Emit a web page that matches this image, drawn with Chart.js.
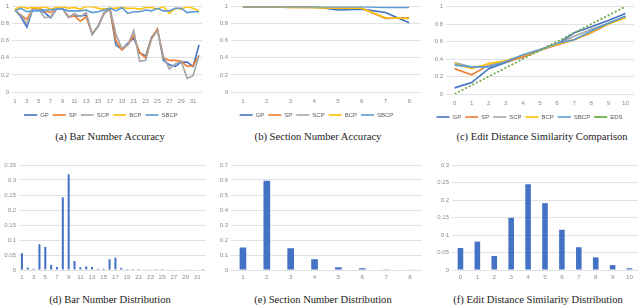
<!DOCTYPE html>
<html>
<head>
<meta charset="utf-8">
<script src="https://cdn.jsdelivr.net/npm/chart.js@4"></script>
<style>
body{margin:0;background:#fff;width:640px;height:307px;position:relative;overflow:hidden}
canvas{position:absolute}
.cap{position:absolute;font-family:"Liberation Serif","Times New Roman",serif;font-size:10.6px;color:#222;white-space:nowrap;transform:translateX(-50%)}
</style>
</head>
<body>
<canvas id="cA" width="212" height="128" style="left:0;top:0"></canvas>
<canvas id="cB" width="212" height="128" style="left:212px;top:0"></canvas>
<canvas id="cC" width="215" height="130" style="left:425px;top:0"></canvas>
<canvas id="cD" width="212" height="134" style="left:0;top:150px"></canvas>
<canvas id="cE" width="213" height="134" style="left:212px;top:150px"></canvas>
<canvas id="cF" width="215" height="134" style="left:425px;top:150px"></canvas>
<div class="cap" style="left:110px;top:131px">(a) Bar Number Accuracy</div>
<div class="cap" style="left:318px;top:131px">(b) Section Number Accuracy</div>
<div class="cap" style="left:542px;top:131px">(c) Edit Distance Similarity Comparison</div>
<div class="cap" style="left:110px;top:294px">(d) Bar Number Distribution</div>
<div class="cap" style="left:323px;top:294px">(e) Section Number Distribution</div>
<div class="cap" style="left:538px;top:294px">(f) Edit Distance Similarity Distribution</div>
<script>
// series names + colours
const seriesNames = ['GP', 'SP', 'SCP', 'BCP', 'SBCP'];
const seriesColors = ['#4472C4', '#ED7D31', '#A5A5A5', '#FFC000', '#5B9BD5'];

// (a) bar number accuracy
const barNums = Array.from({length: 32}, (_, i) => String(i + 1));
const barAcc = [
  [0.96,0.88,0.76,0.97,0.97,0.93,0.87,0.97,0.98,0.88,0.89,0.89,0.90,0.68,0.77,0.92,0.97,0.55,0.50,0.57,0.63,0.46,0.42,0.64,0.73,0.37,0.32,0.30,0.35,0.35,0.30,0.55],
  [0.96,0.90,0.85,0.98,0.98,0.95,0.93,0.97,0.98,0.88,0.89,0.83,0.88,0.68,0.77,0.93,0.97,0.60,0.49,0.55,0.66,0.46,0.40,0.63,0.74,0.40,0.37,0.37,0.36,0.30,0.31,0.43],
  [0.96,0.90,0.80,0.97,0.97,0.87,0.88,0.97,0.98,0.87,0.92,0.88,0.93,0.67,0.77,0.93,0.98,0.68,0.51,0.55,0.72,0.36,0.37,0.62,0.72,0.42,0.27,0.33,0.36,0.16,0.19,0.43],
  [0.97,1.00,0.98,0.99,0.98,1.00,0.97,0.99,1.00,0.98,0.99,0.97,1.00,1.00,0.98,0.97,0.98,0.98,0.99,0.98,0.98,0.97,0.99,0.99,0.97,1.00,0.92,0.98,0.97,1.00,0.98,0.95],
  [0.95,0.98,0.94,0.95,0.95,0.96,0.96,0.97,0.97,0.95,0.95,0.95,0.96,0.93,0.94,0.96,0.98,0.95,0.99,0.92,0.94,0.94,0.96,0.95,0.98,0.95,0.95,0.98,0.98,0.93,0.94,0.94]
];

// (b) section number accuracy
const secNums = ['1', '2', '3', '4', '5', '6', '7', '8'];
const secAcc = [
  [1.00,1.00,1.00,1.00,0.96,0.97,0.93,0.81],
  [1.00,1.00,1.00,0.99,0.98,0.98,0.86,0.87],
  [1.00,1.00,0.99,0.99,0.98,0.98,0.87,0.86],
  [1.00,1.00,0.99,0.99,0.98,0.98,0.87,0.86],
  [1.00,1.00,1.00,1.00,1.00,1.00,0.99,0.99]
];

// (c) edit distance similarity comparison
const edsNums = ['0', '1', '2', '3', '4', '5', '6', '7', '8', '9', '10'];
const edsSim = [
  [0.07,0.13,0.29,0.36,0.43,0.50,0.57,0.70,0.77,0.84,0.92],
  [0.29,0.22,0.33,0.37,0.42,0.50,0.56,0.62,0.70,0.80,0.88],
  [0.36,0.31,0.32,0.38,0.44,0.50,0.57,0.66,0.74,0.81,0.89],
  [0.35,0.29,0.35,0.38,0.44,0.51,0.57,0.62,0.71,0.80,0.87],
  [0.33,0.31,0.31,0.37,0.45,0.51,0.58,0.62,0.72,0.81,0.89]
];
const edsRef = [0, 0.1, 0.2, 0.3, 0.4, 0.5, 0.6, 0.7, 0.8, 0.9, 1.0];

// distributions
const barDist = [0.056,0.008,0.004,0.086,0.077,0.017,0.010,0.242,0.319,0.030,0.009,0.012,0.010,0.004,0.004,0.036,0.041,0.007,0.003,0.003,0.003,0.002,0.002,0.003,0.003,0.002,0.002,0.002,0.002,0.002,0.002,0.003];
const secDist = [0.150,0.595,0.145,0.072,0.018,0.012,0.005,0.004];
const edsDist = [0.063,0.081,0.040,0.149,0.245,0.191,0.115,0.065,0.036,0.014,0.005];

const tickCol = '#8c8c8c';
const gridCol = '#e2e2e2';

function fmt(v) { return String(Number(v.toFixed(2))); }

function yAxis(max, step, w) {
  return {
    min: 0, max: max,
    ticks: { stepSize: step, color: tickCol, font: { size: 6 }, padding: 3, callback: v => fmt(v) },
    grid: { color: gridCol, drawTicks: false },
    border: { display: false },
    afterFit: s => { s.width = w; }
  };
}

function xAxis(h, skipOdd, pad) {
  return {
    offset: true,
    grid: { display: false, drawTicks: false },
    border: { display: false },
    ticks: {
      color: tickCol, font: { size: 6.2 }, autoSkip: false, maxRotation: 0, padding: pad,
      callback: function (v, i) { return skipOdd && i % 2 ? '' : this.getLabelForValue(v); }
    },
    afterFit: s => { s.height = h; }
  };
}

function lineSets(rows) {
  return rows.map((d, i) => ({
    label: seriesNames[i], data: d,
    borderColor: seriesColors[i], backgroundColor: seriesColors[i],
    borderWidth: 1.6, pointRadius: 0, tension: 0, order: 10 - i
  }));
}

function lineChart(id, labels, sets, yMax, yW, pad, skipOdd, xH) {
  new Chart(document.getElementById(id), {
    type: 'line',
    data: { labels: labels, datasets: sets },
    options: {
      responsive: false, animation: false,
      layout: { padding: pad },
      plugins: {
        tooltip: { enabled: false },
        legend: {
          position: 'bottom',
          labels: {
            usePointStyle: true, pointStyle: 'line', pointStyleWidth: 13,
            color: '#595959', font: { size: 6 }, padding: 4,
            sort: (a, b) => a.datasetIndex - b.datasetIndex
          }
        }
      },
      scales: { x: xAxis(xH, skipOdd, 6), y: yAxis(yMax, 0.1, yW) }
    }
  });
}

function barChart(id, labels, vals, yMax, step, yW, pad, skipOdd, pct) {
  new Chart(document.getElementById(id), {
    type: 'bar',
    data: { labels: labels, datasets: [{ data: vals, backgroundColor: '#4472C4', barPercentage: pct, categoryPercentage: 1 }] },
    options: {
      responsive: false, animation: false,
      layout: { padding: pad },
      plugins: { tooltip: { enabled: false }, legend: { display: false } },
      scales: { x: xAxis(14, skipOdd, 4), y: yAxis(yMax, step, yW) }
    }
  });
}

lineChart('cA', barNums, lineSets(barAcc), 1, 12, { top: 3, right: 10 }, true, 16);
lineChart('cB', secNums, lineSets(secAcc), 1, 19, { top: 3, right: 3 }, false, 16);
const cSets = lineSets(edsSim);
cSets.push({ label: 'EDS', data: edsRef, borderColor: '#70AD47', backgroundColor: '#70AD47',
  borderWidth: 1.8, borderDash: [2, 2], pointRadius: 0, tension: 0, order: 0 });
lineChart('cC', edsNums, cSets, 1, 21, { top: 5, right: 6 }, false, 16);

barChart('cD', barNums, barDist, 0.35, 0.05, 19, { top: 15, right: 6 }, true, 0.35);
barChart('cE', secNums, secDist, 0.7, 0.1, 19, { top: 15, right: 3 }, false, 0.28);
barChart('cF', edsNums, edsDist, 0.3, 0.05, 27, { top: 15, right: 2 }, false, 0.33);
</script>
</body>
</html>
